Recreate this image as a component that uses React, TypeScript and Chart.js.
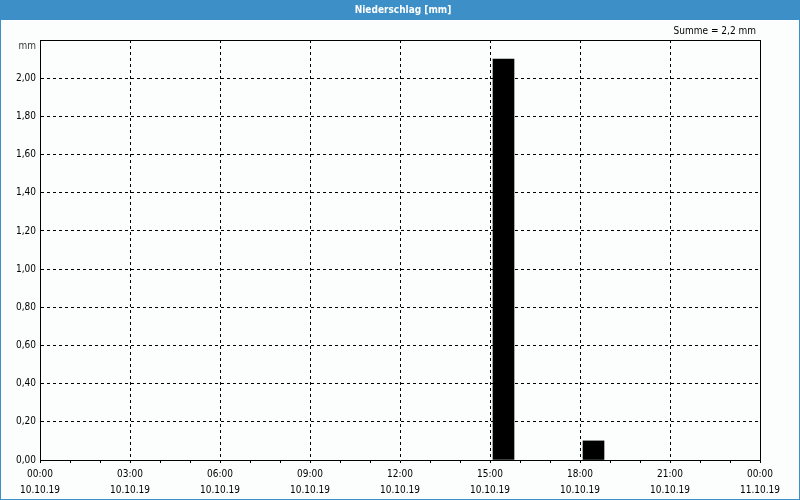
import React, { useEffect, useRef } from 'react';
import { Chart, registerables } from 'chart.js';

Chart.register(...registerables);

const chartTitle = 'Niederschlag [mm]';
const sumLabel = 'Summe = 2,2 mm';
const unitLabel = 'mm';

// hours since 10.10.19 00:00 (bar centres) and precipitation in mm
const rainTimes = [15.45, 18.45];
const rainValues = [2.1, 0.1];

const timeLabels = ['00:00', '03:00', '06:00', '09:00', '12:00', '15:00', '18:00', '21:00', '00:00'];
const dateLabels = ['10.10.19', '10.10.19', '10.10.19', '10.10.19', '10.10.19', '10.10.19', '10.10.19', '10.10.19', '11.10.19'];

const FONT = "'DejaVu Sans Condensed', 'Liberation Sans', sans-serif";
const FSIZE = 10;
const BLUE = '#3c8fc7';

const framePlugin = {
  id: 'frame',
  beforeDraw(chart: any) {
    const { ctx, width, height } = chart;
    ctx.save();
    ctx.fillStyle = '#fcfefe';
    ctx.fillRect(0, 0, width, height);
    ctx.fillStyle = BLUE;
    ctx.fillRect(0, 0, width, 20);
    ctx.restore();
  },
  afterDraw(chart: any) {
    const { ctx, width, height, chartArea } = chart;
    ctx.save();
    ctx.strokeStyle = BLUE;
    ctx.lineWidth = 1;
    ctx.strokeRect(0.5, 0.5, width - 1, height - 1);
    ctx.strokeStyle = '#000';
    ctx.lineWidth = 1;
    ctx.beginPath();
    ctx.moveTo(chartArea.left, chartArea.top + 0.5);
    ctx.lineTo(chartArea.right + 1, chartArea.top + 0.5);
    ctx.moveTo(chartArea.right + 0.5, chartArea.top);
    ctx.lineTo(chartArea.right + 0.5, chartArea.bottom + 3);
    ctx.stroke();
    ctx.fillStyle = '#ffffff';
    ctx.font = `bold ${FSIZE}px ${FONT}`;
    ctx.textAlign = 'center';
    ctx.textBaseline = 'middle';
    ctx.fillText(chartTitle, 403, 10);
    ctx.fillStyle = '#000';
    ctx.font = `${FSIZE}px ${FONT}`;
    ctx.textAlign = 'right';
    ctx.fillText(sumLabel, 756, 31.5);
    ctx.fillStyle = '#333';
    ctx.fillText(unitLabel, 36, 46);
    ctx.restore();
  },
};

export default function App() {
  const ref = useRef<HTMLCanvasElement>(null);

  useEffect(() => {
    if (!ref.current) return;
    const chart = new Chart(ref.current, {
      type: 'bar',
      data: {
        datasets: [
          {
            data: rainTimes.map((x, i) => ({ x, y: rainValues[i] })),
            backgroundColor: '#000',
            borderWidth: 0,
            barThickness: 21,
          },
        ],
      },
      options: {
        responsive: false,
        animation: false,
        layout: { padding: { top: 40, left: 0, right: 40, bottom: 0 } },
        plugins: {
          legend: { display: false },
          tooltip: { enabled: false },
          title: { display: false },
        },
        scales: {
          x: {
            type: 'linear',
            min: 0,
            max: 24,
            offset: false,
            afterFit(scale: any) {
              scale.height = 40;
            },
            ticks: {
              stepSize: 1,
              autoSkip: false,
              maxRotation: 0,
              minRotation: 0,
              padding: 3,
              color: '#000',
              font: { family: FONT, size: FSIZE, lineHeight: 1.6 },
              callback: (v: any) => {
                const n = Number(v);
                if (n % 3 !== 0) return '';
                const i = n / 3;
                return [timeLabels[i], dateLabels[i]];
              },
            },
            grid: {
              offset: false,
              color: (ctx: any) =>
                ctx.tick && ctx.tick.value % 3 === 0 && ctx.tick.value > 0 && ctx.tick.value < 24
                  ? '#000'
                  : 'rgba(0,0,0,0)',
              tickColor: '#000',
              tickLength: 3,
              tickBorderDash: [],
              lineWidth: 1,
            },
            border: { display: true, color: '#000', width: 1, dash: [3, 3] },
          },
          y: {
            type: 'linear',
            min: 0,
            max: 2.2,
            afterFit(scale: any) {
              scale.width = 40;
            },
            ticks: {
              stepSize: 0.2,
              padding: 4,
              color: '#000',
              font: { family: FONT, size: FSIZE },
              callback: (v: any, i: number, ticks: any[]) =>
                i === ticks.length - 1 ? '' : Number(v).toFixed(2).replace('.', ','),
            },
            grid: {
              offset: false,
              color: (ctx: any) =>
                ctx.tick && ctx.tick.value > 0 && ctx.tick.value < 2.19 ? '#000' : 'rgba(0,0,0,0)',
              drawTicks: false,
              lineWidth: 1,
            },
            border: { display: true, color: '#000', width: 1, dash: [3, 3] },
          },
        },
      },
      plugins: [framePlugin],
    });
    return () => chart.destroy();
  }, []);

  return (
    <div style={{ position: 'fixed', left: 0, top: 0, width: 800, height: 500 }}>
      <canvas ref={ref} width={800} height={500} style={{ display: 'block' }} />
    </div>
  );
}
